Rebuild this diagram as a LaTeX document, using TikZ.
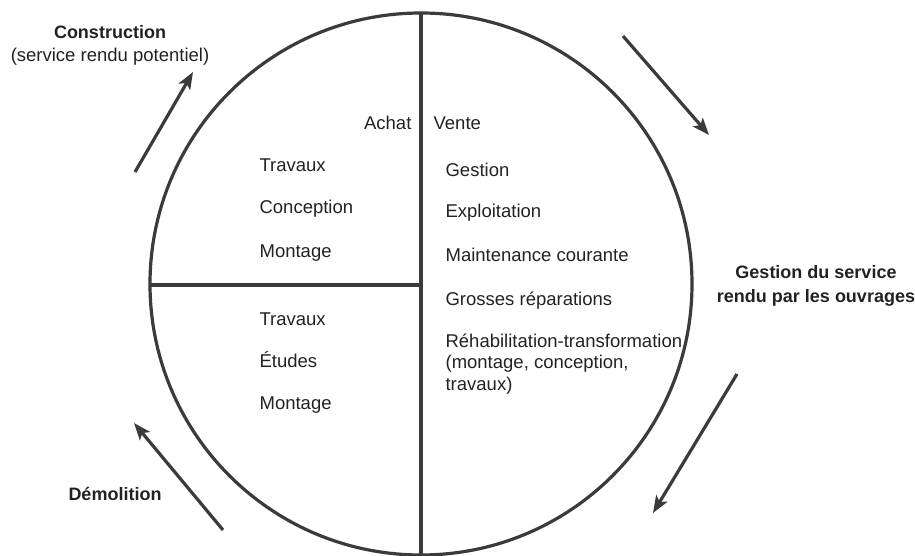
\documentclass[tikz,border=0pt]{standalone}
\usepackage{fontspec}
\setmainfont{Liberation Sans}
\usetikzlibrary{%
  arrows,%
  arrows.meta,%
  positioning% wg. " of "
}
\definecolor{inkgray}{RGB}{60,58,60}
\definecolor{txtgray}{RGB}{34,34,34}

\begin{document}
\begin{tikzpicture}
  [x=1pt, y=-1pt, line width=3.2pt, draw=inkgray,
   >={Stealth[length=17pt,width=13pt,inset=4pt]},
   item/.style={anchor=base west, inner sep=0pt, text=txtgray,
     font=\fontsize{18.5}{21.5}\selectfont},
   phase/.style={anchor=base, inner sep=0pt, text=txtgray,
     font=\fontsize{18}{23}\selectfont\bfseries}]

\useasboundingbox (0,0) rectangle (915,556);

% cercle et partitions
\coordinate (ctr) at (421,284);
\coordinate (top) at (421,13);
\coordinate (bot) at (421,555);
\coordinate (west) at (150,285);
\coordinate (mid) at (421,285);

\draw[draw=inkgray] (ctr) circle (271);
\draw[draw=inkgray] (top) -- (bot);
\draw[draw=inkgray] (west) -- (mid);

% quart haut gauche
\node[item] (trav-a) at (258,172) {Travaux};
\node[item] (conc-a) at (258,214) {Conception};
\node[item] (mont-a) at (258,257) {Montage};

% quart bas gauche
\node[item] (trav-b) at (258,325) {Travaux};
\node[item] (etud-b) at (258,367) {Études};
\node[item] (mont-b) at (258,409) {Montage};

% moitie droite
\node[item, anchor=base east] (achat) at (413,130) {Achat};
\node[item] (vente) at (432,130) {Vente};
\node[item] (gest) at (444,177) {Gestion};
\node[item] (expl) at (444,218) {Exploitation};
\node[item] (maint) at (444,261) {Maintenance courante};
\node[item] (gross) at (444,305) {Grosses réparations};
\node[item] (reha-1) at (444,347) {Réhabilitation-transformation};
\node[item] (reha-2) at (444,368.5) {(montage, conception,};
\node[item] (reha-3) at (444,390) {travaux)};

% phases
\node[phase] (constr) at (110,39) {Construction};
\node[item, anchor=base] (constr-sub) at (110,62) {(service rendu potentiel)};
\node[phase] (serv-1) at (816,278) {Gestion du service};
\node[phase] (serv-2) at (816,302) {rendu par les ouvrages};
\node[phase] (demol) at (115,500) {Démolition};

% fleches du cycle
\coordinate (constr-s) at (135,172);
\coordinate (constr-e) at (193,72);
\coordinate (serv-s) at (623,36);
\coordinate (serv-e) at (709,135);
\coordinate (usage-s) at (737,374);
\coordinate (usage-e) at (653,513);
\coordinate (demol-s) at (223,530);
\coordinate (demol-e) at (134,423);

\draw[->] (constr-s) -- (constr-e);
\draw[->] (serv-s) -- (serv-e);
\draw[->] (usage-s) -- (usage-e);
\draw[->] (demol-s) -- (demol-e);
\end{tikzpicture}
\end{document}
